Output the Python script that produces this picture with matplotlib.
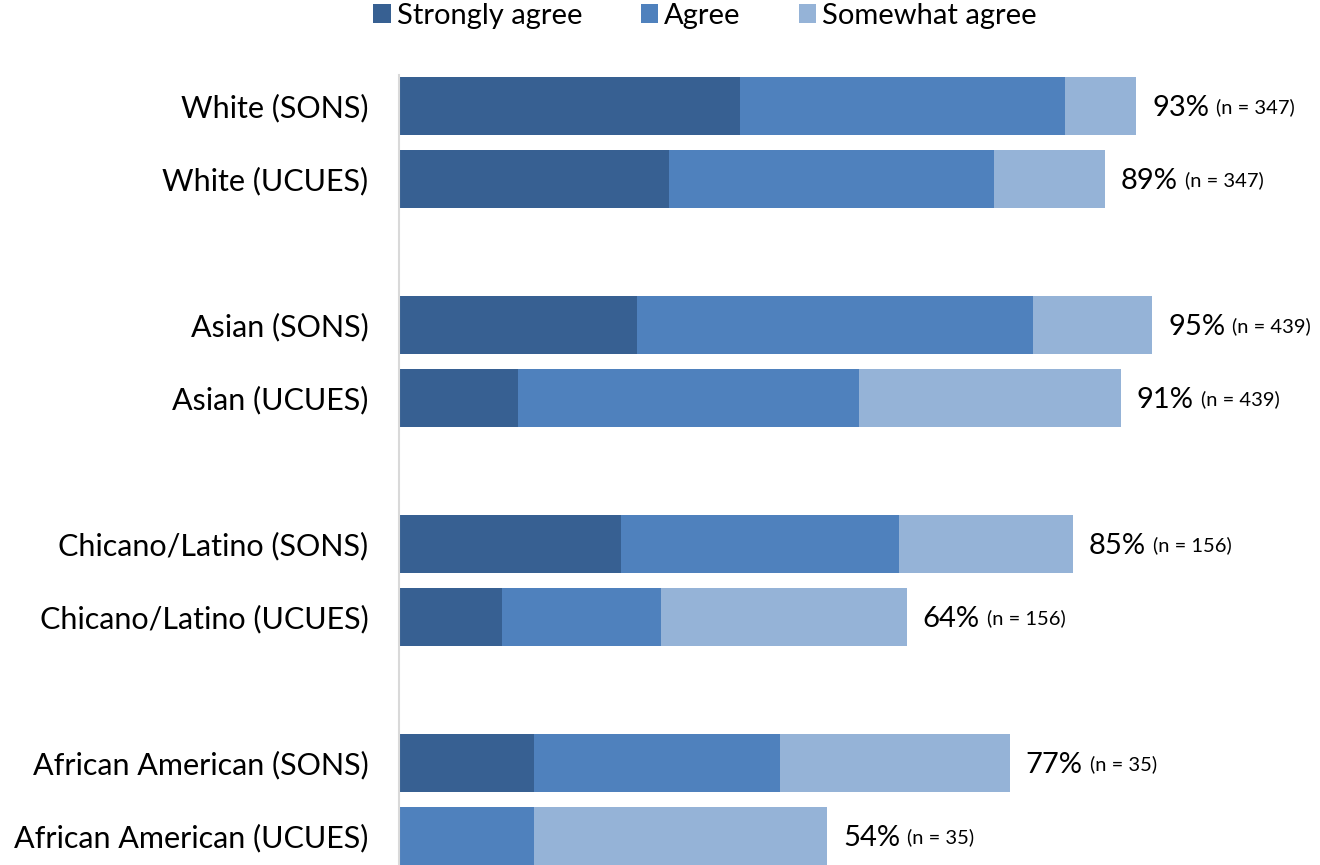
import matplotlib
matplotlib.use("Agg")
import matplotlib.pyplot as plt
import numpy as np

categories = ["White (SONS)", "White (UCUES)", "Asian (SONS)", "Asian (UCUES)",
              "Chicano/Latino (SONS)", "Chicano/Latino (UCUES)",
              "African American (SONS)", "African American (UCUES)"]
strongly_agree = [43, 34, 30, 15, 28, 13, 17, 0]
agree = [41, 41, 50, 43, 35, 20, 31, 17]
somewhat_agree = [9, 14, 15, 33, 22, 31, 29, 37]
n_labels = ["(n = 347)", "(n = 347)", "(n = 439)", "(n = 439)",
            "(n = 156)", "(n = 156)", "(n = 35)", "(n = 35)"]
positions = [0, 1, 3, 4, 6, 7, 9, 10]

series_names = ["Strongly agree", "Agree", "Somewhat agree"]
colors = ["#376092", "#4F81BD", "#95B3D7"]

plt.rcParams['font.family'] = ['Lato', 'DejaVu Sans']

fig = plt.figure(figsize=(13.2, 8.65), dpi=100)
ax = fig.add_axes([399/1320, 0, 1 - 399/1320, 1 - 75/865])

left = np.zeros(len(categories))
handles = []
for vals, name, c in zip([strongly_agree, agree, somewhat_agree], series_names, colors):
    b = ax.barh(positions, vals, left=left, height=0.8, color=c, label=name, edgecolor='none')
    handles.append(b)
    left = left + np.array(vals)

for p, tot, nl in zip(positions, left, n_labels):
    ax.annotate(f"{int(tot)}%", xy=(tot, p), xytext=(16, -2), textcoords='offset pixels',
                ha='left', va='center', fontsize=21, color='black')
    ax.annotate(nl, xy=(tot, p), xytext=(16, 0), textcoords='offset pixels',
                ha='left', va='center', fontsize=14.5, color='black')

ax.set_xlim(0, 921 / 7.93)
ax.set_ylim(10 + 29/73, -(106 - 75) / 73)
ax.set_yticks(positions)
ax.set_yticklabels(categories, fontsize=22)
ax.tick_params(axis='y', length=0, pad=22)
ax.set_xticks([])
for s in ['top', 'right', 'bottom']:
    ax.spines[s].set_visible(False)
ax.spines['left'].set_color('#D9D9D9')
ax.spines['left'].set_linewidth(1.5)

fig.canvas.draw()
r = fig.canvas.get_renderer()
texts = ax.texts
for i in range(0, len(texts), 2):
    bb = texts[i].get_window_extent(r)
    texts[i + 1].set_position((texts[i].xyann[0] + bb.width + 7, -1))

fig.legend(handles=handles, labels=series_names, loc='upper center',
           bbox_to_anchor=(705/1320, 1.027), ncol=3, frameon=False, fontsize=21,
           handlelength=0.6, handleheight=0.6, handletextpad=0.2, columnspacing=2.0)

fig.savefig("out.png", dpi=100)
